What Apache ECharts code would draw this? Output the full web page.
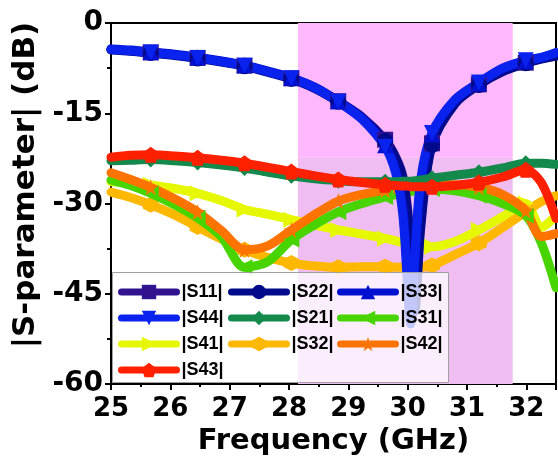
<!DOCTYPE html>
<html><head><meta charset="utf-8">
<script src="https://cdn.jsdelivr.net/npm/echarts@6/dist/echarts.min.js"></script>
<style>html,body{margin:0;padding:0;background:#fff}#c{width:558px;height:457px}</style>
</head><body><div id="c"></div>
<script>
// ---- data ----
const freq = [25.0, 25.33, 25.67, 26.07, 26.46, 26.86, 27.25, 27.65, 28.04, 28.44, 28.83, 29.23, 29.62, 29.8, 29.92, 30.0, 30.05, 30.12, 30.22, 30.41, 30.8, 31.2, 31.6, 31.99, 32.25, 32.5];
const markerIdx = [2, 4, 6, 8, 10, 12, 19, 21, 23];
const s11 = [-4.4, -4.6, -4.9, -5.3, -5.8, -6.4, -7.1, -8.1, -9.2, -10.8, -13.0, -15.6, -19.4, -22.3, -25.5, -31, -37, -47, -33, -20.0, -13.2, -10.2, -8.0, -6.6, -5.9, -5.4];
const s22 = [-4.5, -4.7, -5.0, -5.4, -5.9, -6.5, -7.2, -8.2, -9.3, -10.9, -13.1, -15.8, -19.6, -22.5, -26.0, -32, -38, -48, -34, -20.3, -13.4, -10.3, -8.1, -6.7, -6.0, -5.5];
const s33 = [-4.3, -4.5, -4.8, -5.2, -5.7, -6.3, -7.0, -8.0, -9.1, -10.7, -13.0, -15.8, -20.3, -24.5, -31, -42, -50, -40, -27, -18.5, -12.8, -10.0, -7.6, -6.3, -5.8, -5.0];
const s44 = [-4.4, -4.6, -4.9, -5.3, -5.8, -6.4, -7.1, -8.1, -9.2, -10.8, -13.1, -16.0, -20.6, -25.0, -32, -44, -50, -39, -26, -18.3, -12.7, -9.9, -7.5, -6.2, -5.7, -4.9];
const s21 = [-22.9, -22.8, -22.7, -22.9, -23.2, -23.6, -24.1, -24.8, -25.4, -25.9, -26.2, -26.4, -26.4, -26.4, -26.3, -26.3, -26.3, -26.2, -26.1, -25.8, -25.3, -24.8, -24.1, -23.3, -23.3, -23.5];
const s31 = [-26.1, -27.0, -28.3, -30.2, -32.4, -35.5, -40.6, -39.6, -36.0, -33.5, -31.4, -30.0, -28.9, -28.5, -28.3, -28.1, -28.0, -27.9, -27.8, -27.6, -27.9, -28.7, -30.0, -32.0, -36.5, -44.0];
const s41 = [-26.4, -26.6, -26.9, -27.5, -28.3, -29.5, -31.0, -31.8, -32.7, -33.6, -34.4, -35.1, -35.8, -36.2, -36.5, -36.7, -36.8, -36.9, -37.1, -37.2, -36.3, -34.4, -32.2, -30.0, -34.0, -32.0];
const s32 = [-28.1, -29.0, -30.2, -31.9, -33.9, -35.9, -37.7, -39.0, -39.9, -40.4, -40.6, -40.5, -40.5, -40.6, -40.6, -40.6, -40.6, -40.6, -40.6, -40.3, -38.5, -36.6, -34.0, -31.4, -29.7, -28.7];
const s42 = [-24.9, -26.0, -27.3, -29.2, -31.4, -34.5, -37.7, -37.0, -34.4, -31.8, -29.6, -28.5, -27.8, -27.5, -27.3, -27.2, -27.1, -27.0, -26.9, -26.9, -26.9, -27.3, -28.5, -31.2, -35.5, -35.0];
const s43 = [-22.3, -22.0, -21.9, -22.1, -22.4, -22.8, -23.3, -24.0, -24.7, -25.4, -26.0, -26.5, -26.9, -27.0, -27.1, -27.1, -27.2, -27.2, -27.2, -27.2, -27.0, -26.5, -25.6, -24.4, -26.5, -32.5];
const bandRange = [28.15, 31.77];
const bandSplit = -22.4;
const yTicks = [-60, -45, -30, -15, 0];
const xTicks = [25, 26, 27, 28, 29, 30, 31, 32];

// ---- chart ----
const star = 'path://M50,0 L61,35 L98,35 L68,57 L79,91 L50,70 L21,91 L32,57 L2,35 L39,35 Z';
const pent = 'path://M50,0 L98,36 L80,95 L20,95 L2,36 Z';
const hexa = 'path://M50,0 L95,26 L95,74 L50,100 L5,74 L5,26 Z';

function mk(name, vals, color, symbol, rot, z) {
  return {
    name: name, type: 'line', z: z,
    data: vals.map((v, i) => markerIdx.indexOf(i) >= 0 ? [freq[i], v] : {value: [freq[i], v], symbol: 'none'}),
    smooth: 0.3,
    symbol: symbol, symbolSize: 16, symbolRotate: rot,
    showAllSymbol: true,
    lineStyle: {color: color, width: 9, cap: 'round', join: 'round'},
    itemStyle: {color: color},
    emphasis: {disabled: true}
  };
}

const series = [
  {type: 'line', name: 'band', data: [], z: 1, silent: true,
   markArea: {silent: true, data: [
     [{coord: [bandRange[0], 0], itemStyle: {color: '#ffb8fd'}}, {coord: [bandRange[1], bandSplit]}],
     [{coord: [bandRange[0], bandSplit], itemStyle: {color: '#efbdf1'}}, {coord: [bandRange[1], -60]}]
   ]}},
  mk('|S41|', s41, '#e6f800', 'triangle', -90, 2),
  mk('|S32|', s32, '#ffb800', hexa, 0, 2),
  mk('|S31|', s31, '#48d400', 'triangle', 90, 3),
  mk('|S42|', s42, '#ff7400', star, 0, 3),
  mk('|S11|', s11, '#32138f', 'rect', 0, 4),
  mk('|S22|', s22, '#000a8a', 'circle', 0, 4),
  mk('|S33|', s33, '#0010d0', 'triangle', 0, 4),
  mk('|S44|', s44, '#0a22ee', 'triangle', 180, 4),
  mk('|S21|', s21, '#138a4c', 'diamond', 0, 5),
  mk('|S43|', s43, '#ff2000', pent, 0, 6)
];

const legendCommon = {
  orient: 'vertical', top: 278, itemWidth: 55, itemHeight: 18, itemGap: 8,
  lineStyle: {width: 7, cap: 'round'},
  textStyle: {fontFamily: 'Liberation Sans', fontWeight: 'bold', fontSize: 18, color: '#000', lineHeight: 18},
  z: 20, selectedMode: false
};

const chart = echarts.init(document.getElementById('c'), null, {renderer: 'canvas'});
chart.setOption({
  animation: false,
  backgroundColor: '#fff',
  grid: {left: 111, top: 23, right: 2, bottom: 73, containLabel: false, outerBoundsMode: 'none',
         show: true, borderColor: '#000', borderWidth: 2, backgroundColor: 'transparent'},
  xAxis: {
    type: 'value', min: xTicks[0], max: 32.5, interval: 1,
    name: 'Frequency (GHz)', nameLocation: 'middle', nameGap: 42,
    nameTextStyle: {fontFamily: 'DejaVu Sans', fontWeight: 'bold', fontSize: 29, color: '#000'},
    axisLine: {onZero: false, lineStyle: {color: '#000', width: 2}},
    axisTick: {show: true, inside: false, length: 6, lineStyle: {color: '#000', width: 2}},
    minorTick: {show: true, splitNumber: 2, length: 3, lineStyle: {color: '#000', width: 2}},
    splitLine: {show: false},
    axisLabel: {fontFamily: 'DejaVu Sans', fontWeight: 'bold', fontSize: 26, color: '#000', margin: 12, showMaxLabel: false}
  },
  yAxis: {
    type: 'value', min: yTicks[0], max: yTicks[yTicks.length - 1], interval: 15,
    name: '|S-parameter| (dB)', nameLocation: 'middle', nameGap: 60,
    nameTextStyle: {fontFamily: 'DejaVu Sans', fontWeight: 'bold', fontSize: 31, color: '#000', padding: [0, 0, 0, 37]},
    axisLine: {onZero: false, lineStyle: {color: '#000', width: 2}},
    axisTick: {show: true, inside: false, length: 6, lineStyle: {color: '#000', width: 2}},
    minorTick: {show: true, splitNumber: 2, length: 4, lineStyle: {color: '#000', width: 2}},
    splitLine: {show: false},
    axisLabel: {fontFamily: 'DejaVu Sans', fontWeight: 'bold', fontSize: 28, color: '#000', margin: 8}
  },
  legend: [
    Object.assign({left: 113, data: ['|S11|', '|S44|', '|S41|', '|S43|']}, legendCommon),
    Object.assign({left: 223, data: ['|S22|', '|S21|', '|S32|']}, legendCommon),
    Object.assign({left: 332, data: ['|S33|', '|S31|', '|S42|']}, legendCommon)
  ],
  graphic: [{
    type: 'rect', z: 15, silent: true,
    shape: {x: 112.5, y: 272.5, width: 336, height: 110},
    style: {fill: 'rgba(255,255,255,0.75)', stroke: '#a0a0a0', lineWidth: 1}
  }],
  series: series
});
</script>
</body></html>
